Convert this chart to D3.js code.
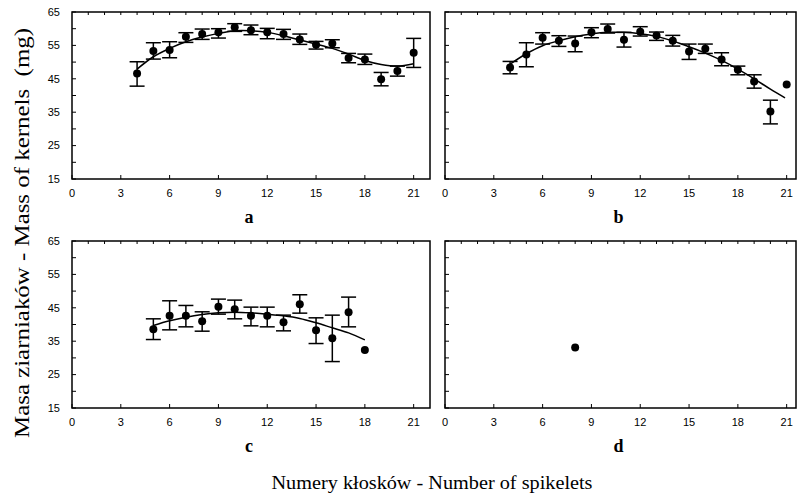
<!DOCTYPE html>
<html>
<head>
<meta charset="utf-8">
<script src="https://cdn.jsdelivr.net/npm/d3@7"></script>
<style>
  body { margin: 0; background: #fff; }
  svg { display: block; }
  .tick-label { font-family: "Liberation Sans", Arial, sans-serif; font-size: 11px; fill: #000; }
  .panel-letter { font-family: "Liberation Serif", "Times New Roman", serif; font-size: 18px; font-weight: bold; }
  .axis-title { font-family: "Liberation Serif", "Times New Roman", serif; font-size: 19px; }
</style>
</head>
<body>
<svg id="chart" width="797" height="499"></svg>
<script>
// x tick labels and y tick values
var xTicks = [0, 3, 6, 9, 12, 15, 18, 21];
var yTicks = [15, 25, 35, 45, 55, 65];

// panel a - mean, lower and upper end of the error bar
var xA = [4, 5, 6, 7, 8, 9, 10, 11, 12, 13, 14, 15, 16, 17, 18, 19, 20, 21];
var meanA = [46.6, 53.3, 53.6, 57.6, 58.4, 58.9, 60.4, 59.5, 58.9, 58.4, 56.8, 55.2, 55.6, 51.2, 50.8, 44.9, 47.3, 52.8];
var lowA = [42.8, 50.9, 51.3, 55.9, 56.8, 57.2, 59.2, 58.2, 57.0, 56.8, 55.3, 53.9, 54.3, 49.8, 49.3, 42.9, 45.8, 48.4];
var highA = [50.1, 55.8, 56.1, 58.8, 59.9, 60.0, 61.5, 61.1, 60.1, 59.8, 58.4, 56.2, 56.7, 52.6, 52.4, 46.9, 48.8, 57.1];
var fitXA = [4, 5, 6, 7, 8, 9, 10, 11, 12, 13, 14, 15, 16, 17, 18, 19, 20, 21];
var fitYA = [47.9, 51.6, 54.1, 56.1, 57.5, 58.6, 59.4, 59.4, 58.9, 57.9, 56.6, 55.4, 54.1, 52.4, 50.5, 49.3, 48.8, 49.5];

// panel b
var xB = [4, 5, 6, 7, 8, 9, 10, 11, 12, 13, 14, 15, 16, 17, 18, 19, 20, 21];
var meanB = [48.4, 52.3, 57.3, 56.4, 55.6, 58.9, 59.9, 56.7, 59.1, 58.0, 56.4, 53.2, 54.0, 50.8, 47.7, 44.2, 35.2, 43.3];
var lowB = [46.5, 48.6, 55.4, 54.7, 53.1, 57.3, 58.7, 54.5, 57.8, 56.5, 54.8, 50.8, 52.6, 48.9, 46.2, 42.2, 31.5, null];
var highB = [50.2, 55.8, 58.8, 57.9, 57.8, 60.3, 61.4, 58.9, 60.6, 59.0, 58.0, 55.4, 55.4, 52.8, 48.8, 46.2, 38.6, null];
var fitXB = [4, 5, 6, 7, 8, 9, 10, 11, 12, 13, 14, 15, 16, 17, 18, 19, 20, 20.9];
var fitYB = [49.4, 52.5, 54.9, 56.4, 57.6, 58.4, 58.9, 58.9, 58.5, 57.7, 56.3, 54.6, 52.7, 50.5, 47.9, 45.0, 41.9, 39.3];

// panel c
var xC = [5, 6, 7, 8, 9, 10, 11, 12, 13, 14, 15, 16, 17, 18];
var meanC = [38.6, 42.6, 42.6, 41.0, 45.3, 44.6, 42.6, 42.6, 40.7, 46.1, 38.3, 35.9, 43.7, 32.4];
var lowC = [35.5, 38.4, 39.3, 38.0, 43.1, 41.7, 39.6, 39.3, 38.1, 43.4, 34.3, 28.9, 39.3, null];
var highC = [41.7, 47.1, 45.7, 43.8, 47.6, 47.3, 45.2, 45.2, 42.8, 48.9, 42.0, 42.8, 48.2, null];
var fitXC = [5, 6, 7, 8, 9, 10, 11, 12, 13, 14, 15, 16, 17, 18];
var fitYC = [39.7, 41.1, 42.2, 43.0, 43.5, 43.7, 43.5, 43.1, 42.6, 41.8, 40.5, 39.0, 37.5, 35.4];

// panel d - one point only
var xD = [8];
var meanD = [33.1];

var svg = d3.select("#chart");

// panel boxes: left, right edge, top, bottom; only left column gets y labels
var panels = [
  {name: "a", left: 72, right: 430, top: 12, bottom: 179, ylab: true, x: xA, mean: meanA, low: lowA, high: highA, fx: fitXA, fy: fitYA},
  {name: "b", left: 445, right: 796, top: 12, bottom: 179, ylab: false, x: xB, mean: meanB, low: lowB, high: highB, fx: fitXB, fy: fitYB},
  {name: "c", left: 72, right: 430, top: 241, bottom: 408, ylab: true, x: xC, mean: meanC, low: lowC, high: highC, fx: fitXC, fy: fitYC},
  {name: "d", left: 445, right: 796, top: 241, bottom: 408, ylab: false, x: xD, mean: meanD, low: [null], high: [null], fx: null, fy: null}
];

var unit = 16.27;  // px per spikelet

panels.forEach(function(p) {
  var g = svg.append("g");
  var x = d3.scaleLinear().domain([0, 21]).range([p.left, p.left + 21 * unit]);
  var y = d3.scaleLinear().domain([15, 65]).range([p.bottom, p.top]);

  // frame
  g.append("rect")
    .attr("x", p.left).attr("y", p.top)
    .attr("width", p.right - p.left).attr("height", p.bottom - p.top)
    .attr("fill", "none").attr("stroke", "#000").attr("stroke-width", 1.5);

  // left ticks every 5, labels every 10
  g.selectAll(".yt").data(d3.range(15, 66, 5)).enter().append("line")
    .attr("x1", p.left).attr("x2", p.left + 4)
    .attr("y1", d => y(d)).attr("y2", d => y(d))
    .attr("stroke", "#000").attr("stroke-width", 1);
  if (p.ylab) {
    g.selectAll(".yl").data(yTicks).enter().append("text")
      .attr("class", "tick-label")
      .attr("x", p.left - 12).attr("y", d => y(d)).attr("dy", "0.35em")
      .attr("text-anchor", "end")
      .text(d => d);
  }

  // top ticks on every spikelet
  g.selectAll(".tt").data(d3.range(1, 22)).enter().append("line")
    .attr("x1", d => x(d)).attr("x2", d => x(d))
    .attr("y1", p.top).attr("y2", p.top + 3)
    .attr("stroke", "#000").attr("stroke-width", 1);

  // bottom ticks + labels
  g.selectAll(".bt").data(xTicks).enter().append("line")
    .attr("x1", d => x(d)).attr("x2", d => x(d))
    .attr("y1", p.bottom).attr("y2", p.bottom - 4)
    .attr("stroke", "#000").attr("stroke-width", 1);
  g.selectAll(".xl").data(xTicks).enter().append("text")
    .attr("class", "tick-label")
    .attr("x", d => x(d)).attr("y", p.bottom + 18)
    .attr("text-anchor", "middle")
    .text(d => d);

  // panel letter
  g.append("text").attr("class", "panel-letter")
    .attr("x", (p.left + p.right) / 2 - 2).attr("y", p.bottom + 44)
    .attr("text-anchor", "middle")
    .text(p.name);

  // fitted curve
  if (p.fx) {
    var line = d3.line()
      .x((d, i) => x(p.fx[i]))
      .y(d => y(d))
      .curve(d3.curveCatmullRom);
    g.append("path").datum(p.fy)
      .attr("d", line)
      .attr("fill", "none").attr("stroke", "#000").attr("stroke-width", 1.5);
  }

  // error bars
  var rows = p.x.map((v, i) => ({x: v, m: p.mean[i], lo: p.low[i], hi: p.high[i]}));
  var eb = g.selectAll(".eb").data(rows.filter(d => d.lo != null)).enter().append("g");
  eb.append("line")
    .attr("x1", d => x(d.x)).attr("x2", d => x(d.x))
    .attr("y1", d => y(d.lo)).attr("y2", d => y(d.hi))
    .attr("stroke", "#000").attr("stroke-width", 1.5);
  ["lo", "hi"].forEach(function(k) {
    eb.append("line")
      .attr("x1", d => x(d.x) - 7.5).attr("x2", d => x(d.x) + 7.5)
      .attr("y1", d => y(d[k])).attr("y2", d => y(d[k]))
      .attr("stroke", "#000").attr("stroke-width", 1.5);
  });

  // points
  g.selectAll(".pt").data(rows).enter().append("circle")
    .attr("cx", d => x(d.x)).attr("cy", d => y(d.m))
    .attr("r", 4).attr("fill", "#000");
});

// axis titles
svg.append("text").attr("class", "axis-title")
  .attr("x", 432).attr("y", 489)
  .attr("text-anchor", "middle")
  .attr("textLength", 321).attr("lengthAdjust", "spacingAndGlyphs")
  .text("Numery kłosków - Number of spikelets");

svg.append("text").attr("class", "axis-title")
  .attr("transform", "translate(29, 233) rotate(-90)")
  .attr("text-anchor", "middle")
  .attr("textLength", 410).attr("lengthAdjust", "spacingAndGlyphs")
  .style("font-size", "21px")
  .style("white-space", "pre")
  .text("Masa ziarniaków - Mass of kernels  (mg)");
</script>
</body>
</html>
